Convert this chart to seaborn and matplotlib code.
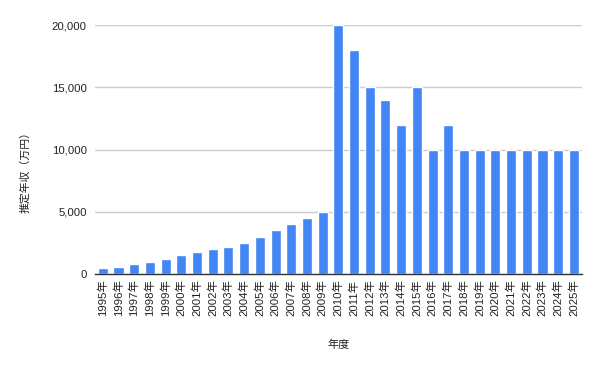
import matplotlib
matplotlib.use("Agg")
import matplotlib.pyplot as plt
import seaborn as sns
import pandas as pd

years = [f"{y}年" for y in range(1995, 2026)]
income = [500, 600, 800, 1000, 1200, 1500, 1800, 2000, 2200, 2500,
          3000, 3500, 4000, 4500, 5000, 20000, 18000, 15000, 14000, 12000,
          15000, 10000, 12000, 10000, 10000, 10000, 10000, 10000, 10000, 10000, 10000]
yticks = [0, 5000, 10000, 15000, 20000]
ytick_labels = ["0", "5,000", "10,000", "15,000", "20,000"]

sns.set_style("white")
plt.rcParams['font.family'] = ['Liberation Sans', 'Noto Sans CJK JP', 'DejaVu Sans']

df = pd.DataFrame({"年度": years, "推定年収": income})

fig = plt.figure(figsize=(6.01, 3.71), dpi=100)
ax = fig.add_axes([0.158, 0.2615, 0.81, 0.671])
sns.barplot(data=df, x="年度", y="推定年収", color="#4285F4", saturation=1,
            width=0.64, ax=ax, zorder=3)
ax.set_ylim(0, 20000)
ax.set_xlim(-0.5, len(years) - 0.5)
ax.set_yticks(yticks)
ax.set_yticklabels(ytick_labels, fontsize=8.2, color="#222222")
ax.tick_params(axis='x', labelrotation=90, labelsize=8.2, labelcolor="#222222", length=0, pad=4)
ax.tick_params(axis='y', length=0, pad=6)
ax.grid(axis='y', color="#cccccc", linewidth=1, zorder=0)
ax.grid(axis='x', visible=False)
for s in ["top", "right", "left"]:
    ax.spines[s].set_visible(False)
ax.spines["bottom"].set_color("#333333")
ax.spines["bottom"].set_linewidth(1)
ax.spines["bottom"].set_zorder(4)
ax.set_xlabel("年度", fontsize=8, color="#222222")
ax.set_ylabel("推定年収（万円）", fontsize=7.8, color="#222222")
ax.yaxis.set_label_coords(-0.133, 0.418)
ax.xaxis.set_label_coords(0.5, -0.265)
fig.savefig("out.png", dpi=100)
